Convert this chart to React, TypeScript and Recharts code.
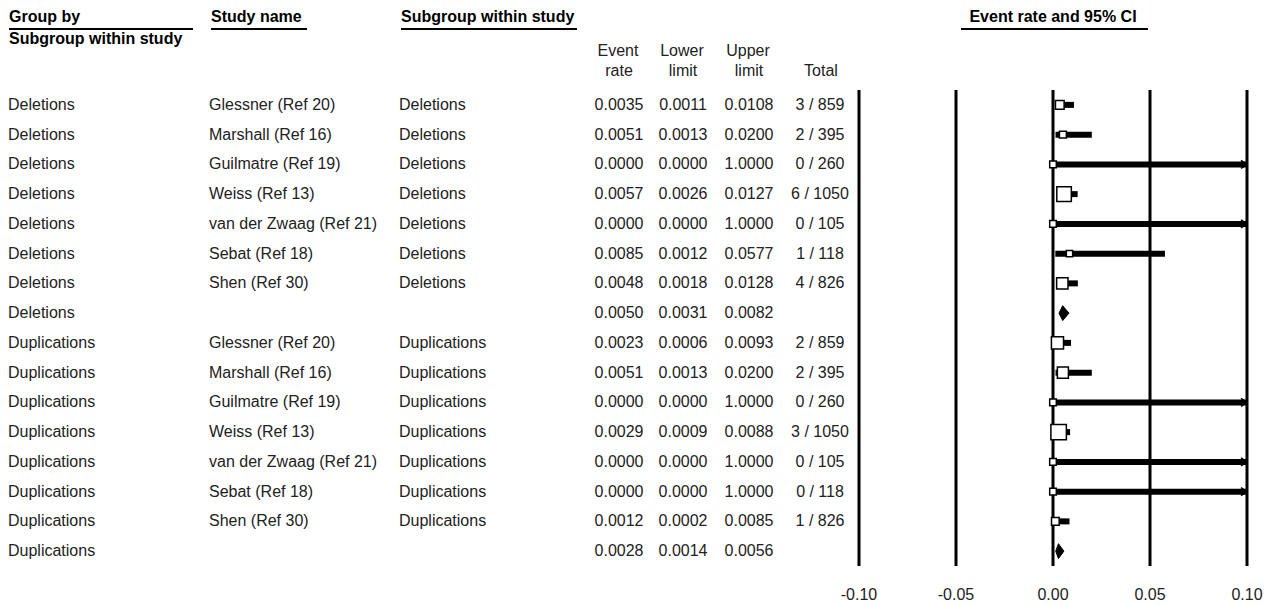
import React from 'react';
import {
  ComposedChart,
  Scatter,
  Area,
  XAxis,
  YAxis,
  ZAxis,
  ErrorBar,
  ReferenceLine
} from 'recharts';

// table columns, one entry per row
const groupBy = [
  'Deletions', 'Deletions', 'Deletions', 'Deletions', 'Deletions', 'Deletions', 'Deletions', 'Deletions',
  'Duplications', 'Duplications', 'Duplications', 'Duplications', 'Duplications', 'Duplications', 'Duplications', 'Duplications'
];
const studyNames = [
  'Glessner (Ref 20)', 'Marshall (Ref 16)', 'Guilmatre (Ref 19)', 'Weiss (Ref 13)', 'van der Zwaag (Ref 21)', 'Sebat (Ref 18)', 'Shen (Ref 30)', '',
  'Glessner (Ref 20)', 'Marshall (Ref 16)', 'Guilmatre (Ref 19)', 'Weiss (Ref 13)', 'van der Zwaag (Ref 21)', 'Sebat (Ref 18)', 'Shen (Ref 30)', ''
];
const subgroups = [
  'Deletions', 'Deletions', 'Deletions', 'Deletions', 'Deletions', 'Deletions', 'Deletions', '',
  'Duplications', 'Duplications', 'Duplications', 'Duplications', 'Duplications', 'Duplications', 'Duplications', ''
];
const eventRate = [0.0035, 0.0051, 0.0, 0.0057, 0.0, 0.0085, 0.0048, 0.005, 0.0023, 0.0051, 0.0, 0.0029, 0.0, 0.0, 0.0012, 0.0028];
const lowerLimit = [0.0011, 0.0013, 0.0, 0.0026, 0.0, 0.0012, 0.0018, 0.0031, 0.0006, 0.0013, 0.0, 0.0009, 0.0, 0.0, 0.0002, 0.0014];
const upperLimit = [0.0108, 0.02, 1.0, 0.0127, 1.0, 0.0577, 0.0128, 0.0082, 0.0093, 0.02, 1.0, 0.0088, 1.0, 1.0, 0.0085, 0.0056];
const totals = ['3 / 859', '2 / 395', '0 / 260', '6 / 1050', '0 / 105', '1 / 118', '4 / 826', '', '2 / 859', '2 / 395', '0 / 260', '3 / 1050', '0 / 105', '0 / 118', '1 / 826', ''];
const isSummary = [false, false, false, false, false, false, false, true, false, false, false, false, false, false, false, true];
// relative study weights (square area)
const weights = [36, 23, 21, 101, 21, 19, 62, 0, 70, 58, 21, 115, 21, 21, 28, 0];

const xTicks = [-0.1, -0.05, 0, 0.05, 0.1];

const W = 1278;
const H = 605;
const PLOT_LEFT = 859;
const PLOT_RIGHT = 1247;
const PLOT_TOP = 90;
const PLOT_BOTTOM = 566;
const ROW_H = (PLOT_BOTTOM - PLOT_TOP) / groupBy.length;
const X_MAX = 0.1;
const FONT = '"Liberation Sans", Arial, sans-serif';

const studyPoints = eventRate
  .map((r, i) => ({
    x: r,
    y: i,
    z: weights[i],
    err: [r - lowerLimit[i], Math.min(upperLimit[i], X_MAX) - r]
  }))
  .filter((_, i) => !isSummary[i]);

const arrowPoints = upperLimit
  .map((u, i) => ({ x: X_MAX, y: i, over: u > X_MAX }))
  .filter(p => p.over);

const diamonds = eventRate
  .map((r, i) => ({ i, r }))
  .filter(d => isSummary[d.i])
  .map(d => [
    { x: lowerLimit[d.i], d: [d.i, d.i] },
    { x: d.r, d: [d.i - 0.25, d.i + 0.25] },
    { x: upperLimit[d.i], d: [d.i, d.i] }
  ]);

const rowY = (i: number) => PLOT_TOP + (i + 0.5) * ROW_H;

function Txt({ left, cy, children, align = 'left', bold = false, width = 0 }: any) {
  const style: React.CSSProperties = {
    position: 'absolute',
    top: cy - 9,
    lineHeight: '18px',
    fontSize: 16,
    fontWeight: bold ? 'bold' : 'normal',
    color: bold ? '#000' : '#222',
    whiteSpace: 'nowrap'
  };
  if (align === 'center') {
    style.left = left - width / 2;
    style.width = width;
    style.textAlign = 'center';
  } else {
    style.left = left;
  }
  return <div style={style}>{children}</div>;
}

function Rule({ x1, x2, y }: { x1: number; x2: number; y: number }) {
  return <div style={{ position: 'absolute', left: x1, top: y, width: x2 - x1, height: 2, background: '#000' }} />;
}

const Arrow = (p: any) => (
  <path
    d={`M${p.cx - 6},${p.cy - 4} L${p.cx},${p.cy} L${p.cx - 6},${p.cy + 4}`}
    fill="none"
    stroke="#000"
    strokeWidth={1.5}
  />
);

export default function App() {
  return (
    <div style={{ position: 'relative', width: W, height: H, background: '#fff', fontFamily: FONT }}>
      <style>{'body{margin:0}'}</style>

      <Txt left={9} cy={17} bold>Group by</Txt>
      <Rule x1={9} x2={193} y={28} />
      <Txt left={9} cy={39} bold>Subgroup within study</Txt>
      <Txt left={211} cy={17} bold>Study name</Txt>
      <Rule x1={211} x2={307} y={28} />
      <Txt left={401} cy={17} bold>Subgroup within study</Txt>
      <Rule x1={401} x2={577} y={28} />
      <Txt left={1053} cy={17} bold align="center" width={240}>Event rate and 95% CI</Txt>
      <Rule x1={961} x2={1148} y={28} />

      <Txt left={618} cy={51} align="center" width={60}>Event</Txt>
      <Txt left={619} cy={71} align="center" width={60}>rate</Txt>
      <Txt left={682} cy={51} align="center" width={60}>Lower</Txt>
      <Txt left={683} cy={71} align="center" width={60}>limit</Txt>
      <Txt left={748} cy={51} align="center" width={60}>Upper</Txt>
      <Txt left={749} cy={71} align="center" width={60}>limit</Txt>
      <Txt left={821} cy={71} align="center" width={60}>Total</Txt>

      {groupBy.map((g, i) => (
        <React.Fragment key={i}>
          <Txt left={8} cy={rowY(i)}>{g}</Txt>
          <Txt left={209} cy={rowY(i)}>{studyNames[i]}</Txt>
          <Txt left={399} cy={rowY(i)}>{subgroups[i]}</Txt>
          <Txt left={619} cy={rowY(i)} align="center" width={70}>{eventRate[i].toFixed(4)}</Txt>
          <Txt left={683} cy={rowY(i)} align="center" width={70}>{lowerLimit[i].toFixed(4)}</Txt>
          <Txt left={749} cy={rowY(i)} align="center" width={70}>{upperLimit[i].toFixed(4)}</Txt>
          <Txt left={820} cy={rowY(i)} align="center" width={80}>{totals[i]}</Txt>
        </React.Fragment>
      ))}

      <div style={{ position: 'absolute', left: 0, top: 0 }}>
        <ComposedChart
          width={W}
          height={H}
          margin={{ top: PLOT_TOP, right: W - PLOT_RIGHT, bottom: 0, left: PLOT_LEFT }}
        >
          <XAxis
            type="number"
            dataKey="x"
            domain={[-0.1, 0.1]}
            allowDataOverflow
            ticks={xTicks}
            tickFormatter={(v: number) => v.toFixed(2)}
            axisLine={false}
            tickLine={false}
            tickMargin={17}
            height={H - PLOT_BOTTOM}
            tick={{ fill: '#222', fontSize: 16, fontFamily: FONT }}
          />
          <YAxis type="number" dataKey="y" domain={[-0.5, 15.5]} reversed hide allowDataOverflow />
          <ZAxis type="number" dataKey="z" domain={[0, 100]} range={[0, 240]} />

          {xTicks.map(t => (
            <ReferenceLine key={t} x={t} stroke="#000" strokeWidth={3} />
          ))}

          {diamonds.map((d, k) => (
            <Area
              key={k}
              data={d}
              dataKey="d"
              type="linear"
              stroke="#000"
              strokeWidth={1}
              fill="#000"
              fillOpacity={1}
              dot={false}
              activeDot={false}
              isAnimationActive={false}
            />
          ))}

          <Scatter
            data={studyPoints}
            shape="square"
            fill="#fff"
            stroke="#000"
            strokeWidth={1.5}
            isAnimationActive={false}
          >
            <ErrorBar dataKey="err" direction="x" width={0} strokeWidth={6} stroke="#000" />
          </Scatter>

          <Scatter data={arrowPoints} shape={Arrow} isAnimationActive={false} />
        </ComposedChart>
      </div>
    </div>
  );
}
